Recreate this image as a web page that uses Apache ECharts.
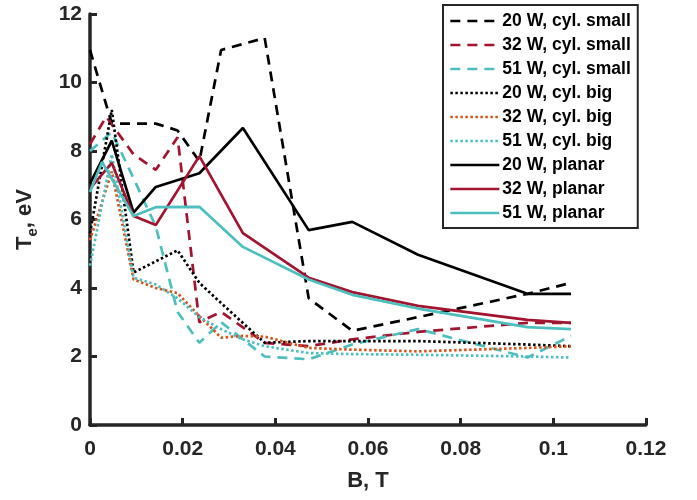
<!DOCTYPE html>
<html>
<head>
<meta charset="utf-8">
<script src="https://cdn.jsdelivr.net/npm/echarts@6/dist/echarts.min.js"></script>
<style>
  html, body { margin: 0; padding: 0; background: #ffffff; }
  #chart { width: 697px; height: 500px; }
</style>
</head>
<body>
<div id="chart"></div>
<script>
// Electron temperature vs. magnetic field for three source geometries and three RF powers.

// Magnetic field values (T) used by each run
const bCylSmall20 = [0, 0.0047, 0.0094, 0.0142, 0.0189, 0.0236, 0.0283, 0.0377, 0.0472, 0.0566, 0.0708, 0.0944, 0.1038];
const bCylSmall32 = [0, 0.0035, 0.0094, 0.0142, 0.0189, 0.0236, 0.0283, 0.0330, 0.0377, 0.0472, 0.0566, 0.0708, 0.0944, 0.1038];
const bCylSmall51 = [0, 0.0047, 0.0094, 0.0142, 0.0189, 0.0236, 0.0283, 0.0330, 0.0377, 0.0472, 0.0566, 0.0708, 0.0944, 0.1038];
const bCylBig20   = [0, 0.0047, 0.0094, 0.0142, 0.0189, 0.0236, 0.0283, 0.0330, 0.0377, 0.0472, 0.0566, 0.0708, 0.0944, 0.1038];
const bCylBig32   = [0, 0.0047, 0.0094, 0.0142, 0.0189, 0.0236, 0.0283, 0.0330, 0.0377, 0.0472, 0.0566, 0.0708, 0.0944, 0.1038];
const bCylBig51   = [0, 0.0047, 0.0094, 0.0142, 0.0189, 0.0236, 0.0283, 0.0330, 0.0377, 0.0472, 0.0566, 0.0708, 0.0944, 0.1038];
const bPlanar20   = [0, 0.0047, 0.0094, 0.0142, 0.0236, 0.0330, 0.0472, 0.0566, 0.0708, 0.0944, 0.1038];
const bPlanar32   = [0, 0.0047, 0.0094, 0.0142, 0.0236, 0.0330, 0.0472, 0.0566, 0.0708, 0.0944, 0.1038];
const bPlanar51   = [0, 0.0026, 0.0094, 0.0142, 0.0236, 0.0330, 0.0472, 0.0566, 0.0708, 0.0944, 0.1038];

// Electron temperature (eV)
const teCylSmall20 = [10.95, 8.8, 8.8, 8.8, 8.6, 7.7, 10.95, 11.3, 3.7, 2.75, 3.15, 3.83, 4.15];
const teCylSmall32 = [8.2, 9.0, 7.9, 7.45, 8.4, 3.0, 3.3, 2.85, 2.4, 2.3, 2.5, 2.72, 2.98, 2.98];
const teCylSmall51 = [8.0, 8.55, 7.2, 5.8, 3.3, 2.4, 3.0, 2.5, 2.0, 1.92, 2.35, 2.8, 1.97, 2.6];
const teCylBig20   = [5.6, 9.2, 4.45, 4.78, 5.1, 4.15, 3.56, 2.98, 2.4, 2.45, 2.45, 2.45, 2.35, 2.3];
const teCylBig32   = [5.4, 7.4, 4.25, 4.0, 3.85, 3.18, 2.55, 2.6, 2.58, 2.25, 2.2, 2.15, 2.25, 2.3];
const teCylBig51   = [4.65, 7.9, 4.3, 4.1, 3.7, 3.15, 2.8, 2.5, 2.3, 2.1, 2.07, 2.05, 2.0, 1.97];
const tePlanar20   = [7.05, 8.3, 6.2, 6.95, 7.35, 8.67, 5.69, 5.93, 4.97, 3.83, 3.83];
const tePlanar32   = [6.9, 7.65, 6.1, 5.84, 7.85, 5.6, 4.3, 3.88, 3.48, 3.07, 2.98];
const tePlanar51   = [6.8, 7.68, 6.1, 6.36, 6.37, 5.2, 4.25, 3.8, 3.4, 2.86, 2.8];

// Axis ticks
const xTicks = { min: 0, max: 0.12, step: 0.02 };
const yTicks = { min: 0, max: 12, step: 2 };

const FONT = "'Liberation Sans', Arial, Helvetica, sans-serif";
const AXIS_COLOR = '#262626';
const BLACK = '#000000';
const RED = '#A2142F';
const ORANGE = '#D95319';
const TEAL = '#4DBFBF';
const DASH = [10, 7];
const DOT = [2.5, 2.5];

function pairs(b, te) {
  return b.map((v, i) => [v, te[i]]);
}

const runs = [
  { name: '20 W, cyl. small', b: bCylSmall20, te: teCylSmall20, color: BLACK,  dash: DASH },
  { name: '32 W, cyl. small', b: bCylSmall32, te: teCylSmall32, color: RED,    dash: DASH },
  { name: '51 W, cyl. small', b: bCylSmall51, te: teCylSmall51, color: TEAL,   dash: DASH },
  { name: '20 W, cyl. big',   b: bCylBig20,   te: teCylBig20,   color: BLACK,  dash: DOT },
  { name: '32 W, cyl. big',   b: bCylBig32,   te: teCylBig32,   color: ORANGE, dash: DOT },
  { name: '51 W, cyl. big',   b: bCylBig51,   te: teCylBig51,   color: TEAL,   dash: DOT },
  { name: '20 W, planar',     b: bPlanar20,   te: tePlanar20,   color: BLACK,  dash: 'solid' },
  { name: '32 W, planar',     b: bPlanar32,   te: tePlanar32,   color: RED,    dash: 'solid' },
  { name: '51 W, planar',     b: bPlanar51,   te: tePlanar51,   color: TEAL,   dash: 'solid' }
];

const chart = echarts.init(document.getElementById('chart'), null, { renderer: 'canvas' });

const axisCommon = {
  axisLine: { show: true, onZero: false, lineStyle: { color: AXIS_COLOR, width: 3.5 } },
  axisTick: { show: true, inside: true, length: 7, lineStyle: { color: AXIS_COLOR, width: 3 } },
  splitLine: { show: false },
  axisLabel: { color: AXIS_COLOR, fontFamily: FONT, fontWeight: 'bold', fontSize: 21 }
};

chart.setOption({
  backgroundColor: '#ffffff',
  animation: false,
  grid: { left: 90, right: 51, top: 14, bottom: 75 },
  xAxis: Object.assign({}, axisCommon, {
    type: 'value',
    min: xTicks.min, max: xTicks.max, interval: xTicks.step,
    name: 'B, T',
    nameLocation: 'middle',
    nameGap: 45,
    nameTextStyle: { color: AXIS_COLOR, fontFamily: FONT, fontWeight: 'bold', fontSize: 22 },
    axisLabel: Object.assign({}, axisCommon.axisLabel, {
      margin: 14,
      formatter: v => String(+v.toFixed(2))
    })
  }),
  yAxis: Object.assign({}, axisCommon, {
    type: 'value',
    min: yTicks.min, max: yTicks.max, interval: yTicks.step,
    name: '{t|T}{s|e}{t|, eV}',
    nameLocation: 'middle',
    nameRotate: 90,
    nameGap: 50,
    nameTextStyle: {
      color: AXIS_COLOR, fontFamily: FONT, fontWeight: 'bold', fontSize: 22,
      rich: {
        t: { color: AXIS_COLOR, fontFamily: FONT, fontWeight: 'bold', fontSize: 22, lineHeight: 30, verticalAlign: 'middle' },
        s: { color: AXIS_COLOR, fontFamily: FONT, fontWeight: 'bold', fontSize: 15, lineHeight: 14, verticalAlign: 'bottom' }
      }
    },
    axisLabel: Object.assign({}, axisCommon.axisLabel, { margin: 8 })
  }),
  legend: {
    orient: 'vertical',
    left: 443,
    top: 5,
    padding: [7, 7, 6, 6],
    itemGap: 6,
    itemWidth: 49,
    itemHeight: 18,
    backgroundColor: '#ffffff',
    borderColor: AXIS_COLOR,
    borderWidth: 2,
    selectedMode: false,
    itemStyle: { opacity: 0 },
    lineStyle: { width: 2.7 },
    textStyle: { color: '#000000', fontFamily: FONT, fontWeight: 'bold', fontSize: 17.5, lineHeight: 18, padding: [0, 0, 0, -2] },
    data: runs.map(r => r.name)
  },
  series: runs.map(r => ({
    name: r.name,
    type: 'line',
    data: pairs(r.b, r.te),
    symbol: 'none',
    showSymbol: false,
    smooth: false,
    clip: true,
    lineStyle: { color: r.color, width: 2.7, type: r.dash, cap: 'butt' },
    itemStyle: { color: r.color },
    emphasis: { disabled: true }
  }))
});
</script>
</body>
</html>
